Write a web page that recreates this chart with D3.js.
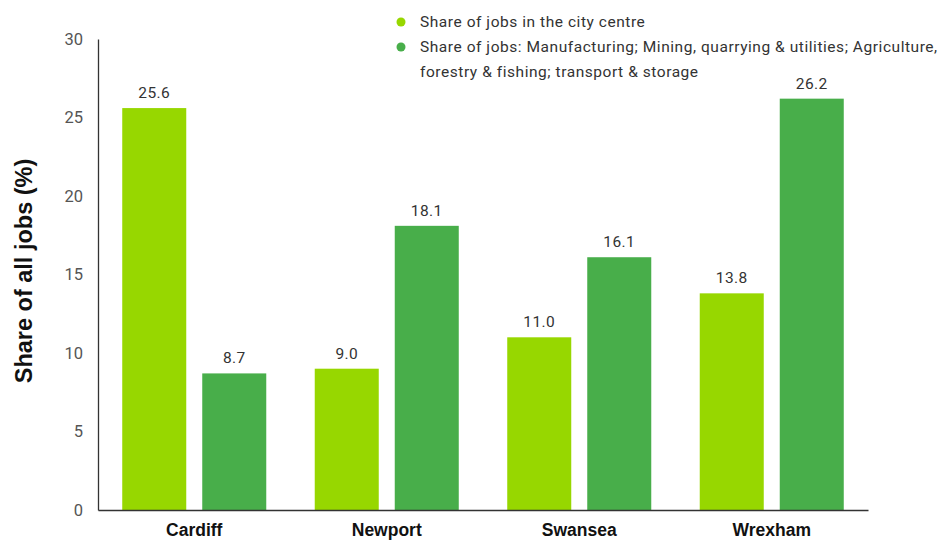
<!DOCTYPE html>
<html>
<head>
<meta charset="utf-8">
<script src="https://cdn.jsdelivr.net/npm/d3@7/dist/d3.min.js"></script>
<style>
  body { margin: 0; background: #fff; }
  svg { display: block; font-family: Roboto, "Open Sans", sans-serif; }
</style>
</head>
<body>
<svg id="chart" width="941" height="540"></svg>
<script>
const cities = ["Cardiff", "Newport", "Swansea", "Wrexham"];
const cityCentreShare = [25.6, 9.0, 11.0, 13.8];
const industryShare = [8.7, 18.1, 16.1, 26.2];
const yTicks = [0, 5, 10, 15, 20, 25, 30];
const seriesNames = [
  "Share of jobs in the city centre",
  "Share of jobs: Manufacturing; Mining, quarrying & utilities; Agriculture,|forestry & fishing; transport & storage"
];
const seriesKeys = ["centre", "industry"];
const colors = ["#97d700", "#48ae4a"];

const rows = cities.map((c, i) => ({ city: c, centre: cityCentreShare[i], industry: industryShare[i] }));

const svg = d3.select("#chart");
const plotLeft = 98, plotRight = 868, plotTop = 39, plotBottom = 510;

const x0 = d3.scaleBand().domain(cities).range([plotLeft, plotRight]).padding(0);
const x1 = d3.scaleBand().domain(seriesKeys).range([0, x0.bandwidth()])
  .paddingInner(0.2).paddingOuter(0.303);
const y = d3.scaleLinear().domain([0, 30]).range([plotBottom, plotTop]);
const color = d3.scaleOrdinal().domain(seriesKeys).range(colors);

// Bars
const groups = svg.append("g").selectAll("g").data(rows).join("g")
  .attr("transform", d => `translate(${x0(d.city)},0)`);
groups.selectAll("rect")
  .data(d => seriesKeys.map(k => ({ key: k, value: d[k] })))
  .join("rect")
  .attr("x", d => x1(d.key))
  .attr("width", x1.bandwidth())
  .attr("y", d => y(d.value))
  .attr("height", d => y(0) - y(d.value))
  .attr("fill", d => color(d.key));

// Value labels
groups.selectAll("text.val")
  .data(d => seriesKeys.map(k => ({ key: k, value: d[k] })))
  .join("text")
  .attr("class", "val")
  .attr("x", d => x1(d.key) + x1.bandwidth() / 2)
  .attr("y", d => y(d.value) - 10)
  .attr("text-anchor", "middle")
  .attr("font-size", 15.5)
  .attr("letter-spacing", 0.4)
  .attr("fill", "#333")
  .text(d => d.value.toFixed(1));

// Y axis
const yAxis = svg.append("g").attr("transform", `translate(${plotLeft},0)`)
  .call(d3.axisLeft(y).tickValues(yTicks).tickSize(0).tickPadding(15));
yAxis.select(".domain").attr("stroke", "#333").attr("stroke-width", 1.3);
yAxis.selectAll("text").attr("font-size", 16.5).attr("fill", "#555")
  .attr("font-family", "Roboto, sans-serif");

// X axis
const xAxis = svg.append("g").attr("transform", `translate(0,${plotBottom})`)
  .call(d3.axisBottom(x0).tickSize(0).tickPadding(14));
xAxis.select(".domain").attr("stroke", "#333").attr("stroke-width", 1.3);
xAxis.selectAll("text").attr("font-size", 17.5).attr("font-weight", "bold")
  .attr("fill", "#111").attr("font-family", "'Liberation Sans', Arial, sans-serif");

// Y axis title
svg.append("text")
  .attr("transform", `translate(32,271) rotate(-90)`)
  .attr("text-anchor", "middle")
  .attr("font-size", 23.5)
  .attr("font-weight", "bold")
  .attr("font-family", "'Liberation Sans', Arial, sans-serif")
  .attr("fill", "#111")
  .text("Share of all jobs (%)");

// Legend
const legend = svg.append("g");
seriesNames.forEach((name, i) => {
  const ly = 22 + i * 25;
  legend.append("circle").attr("cx", 401).attr("cy", ly).attr("r", 4.5).attr("fill", colors[i]);
  const t = legend.append("text").attr("x", 420).attr("y", ly + 5)
    .attr("font-size", 15.5).attr("letter-spacing", 0.55).attr("fill", "#333");
  name.split("|").forEach((line, j) => {
    t.append("tspan").attr("x", 420).attr("dy", j === 0 ? 0 : 25).text(line);
  });
});
</script>
</body>
</html>
